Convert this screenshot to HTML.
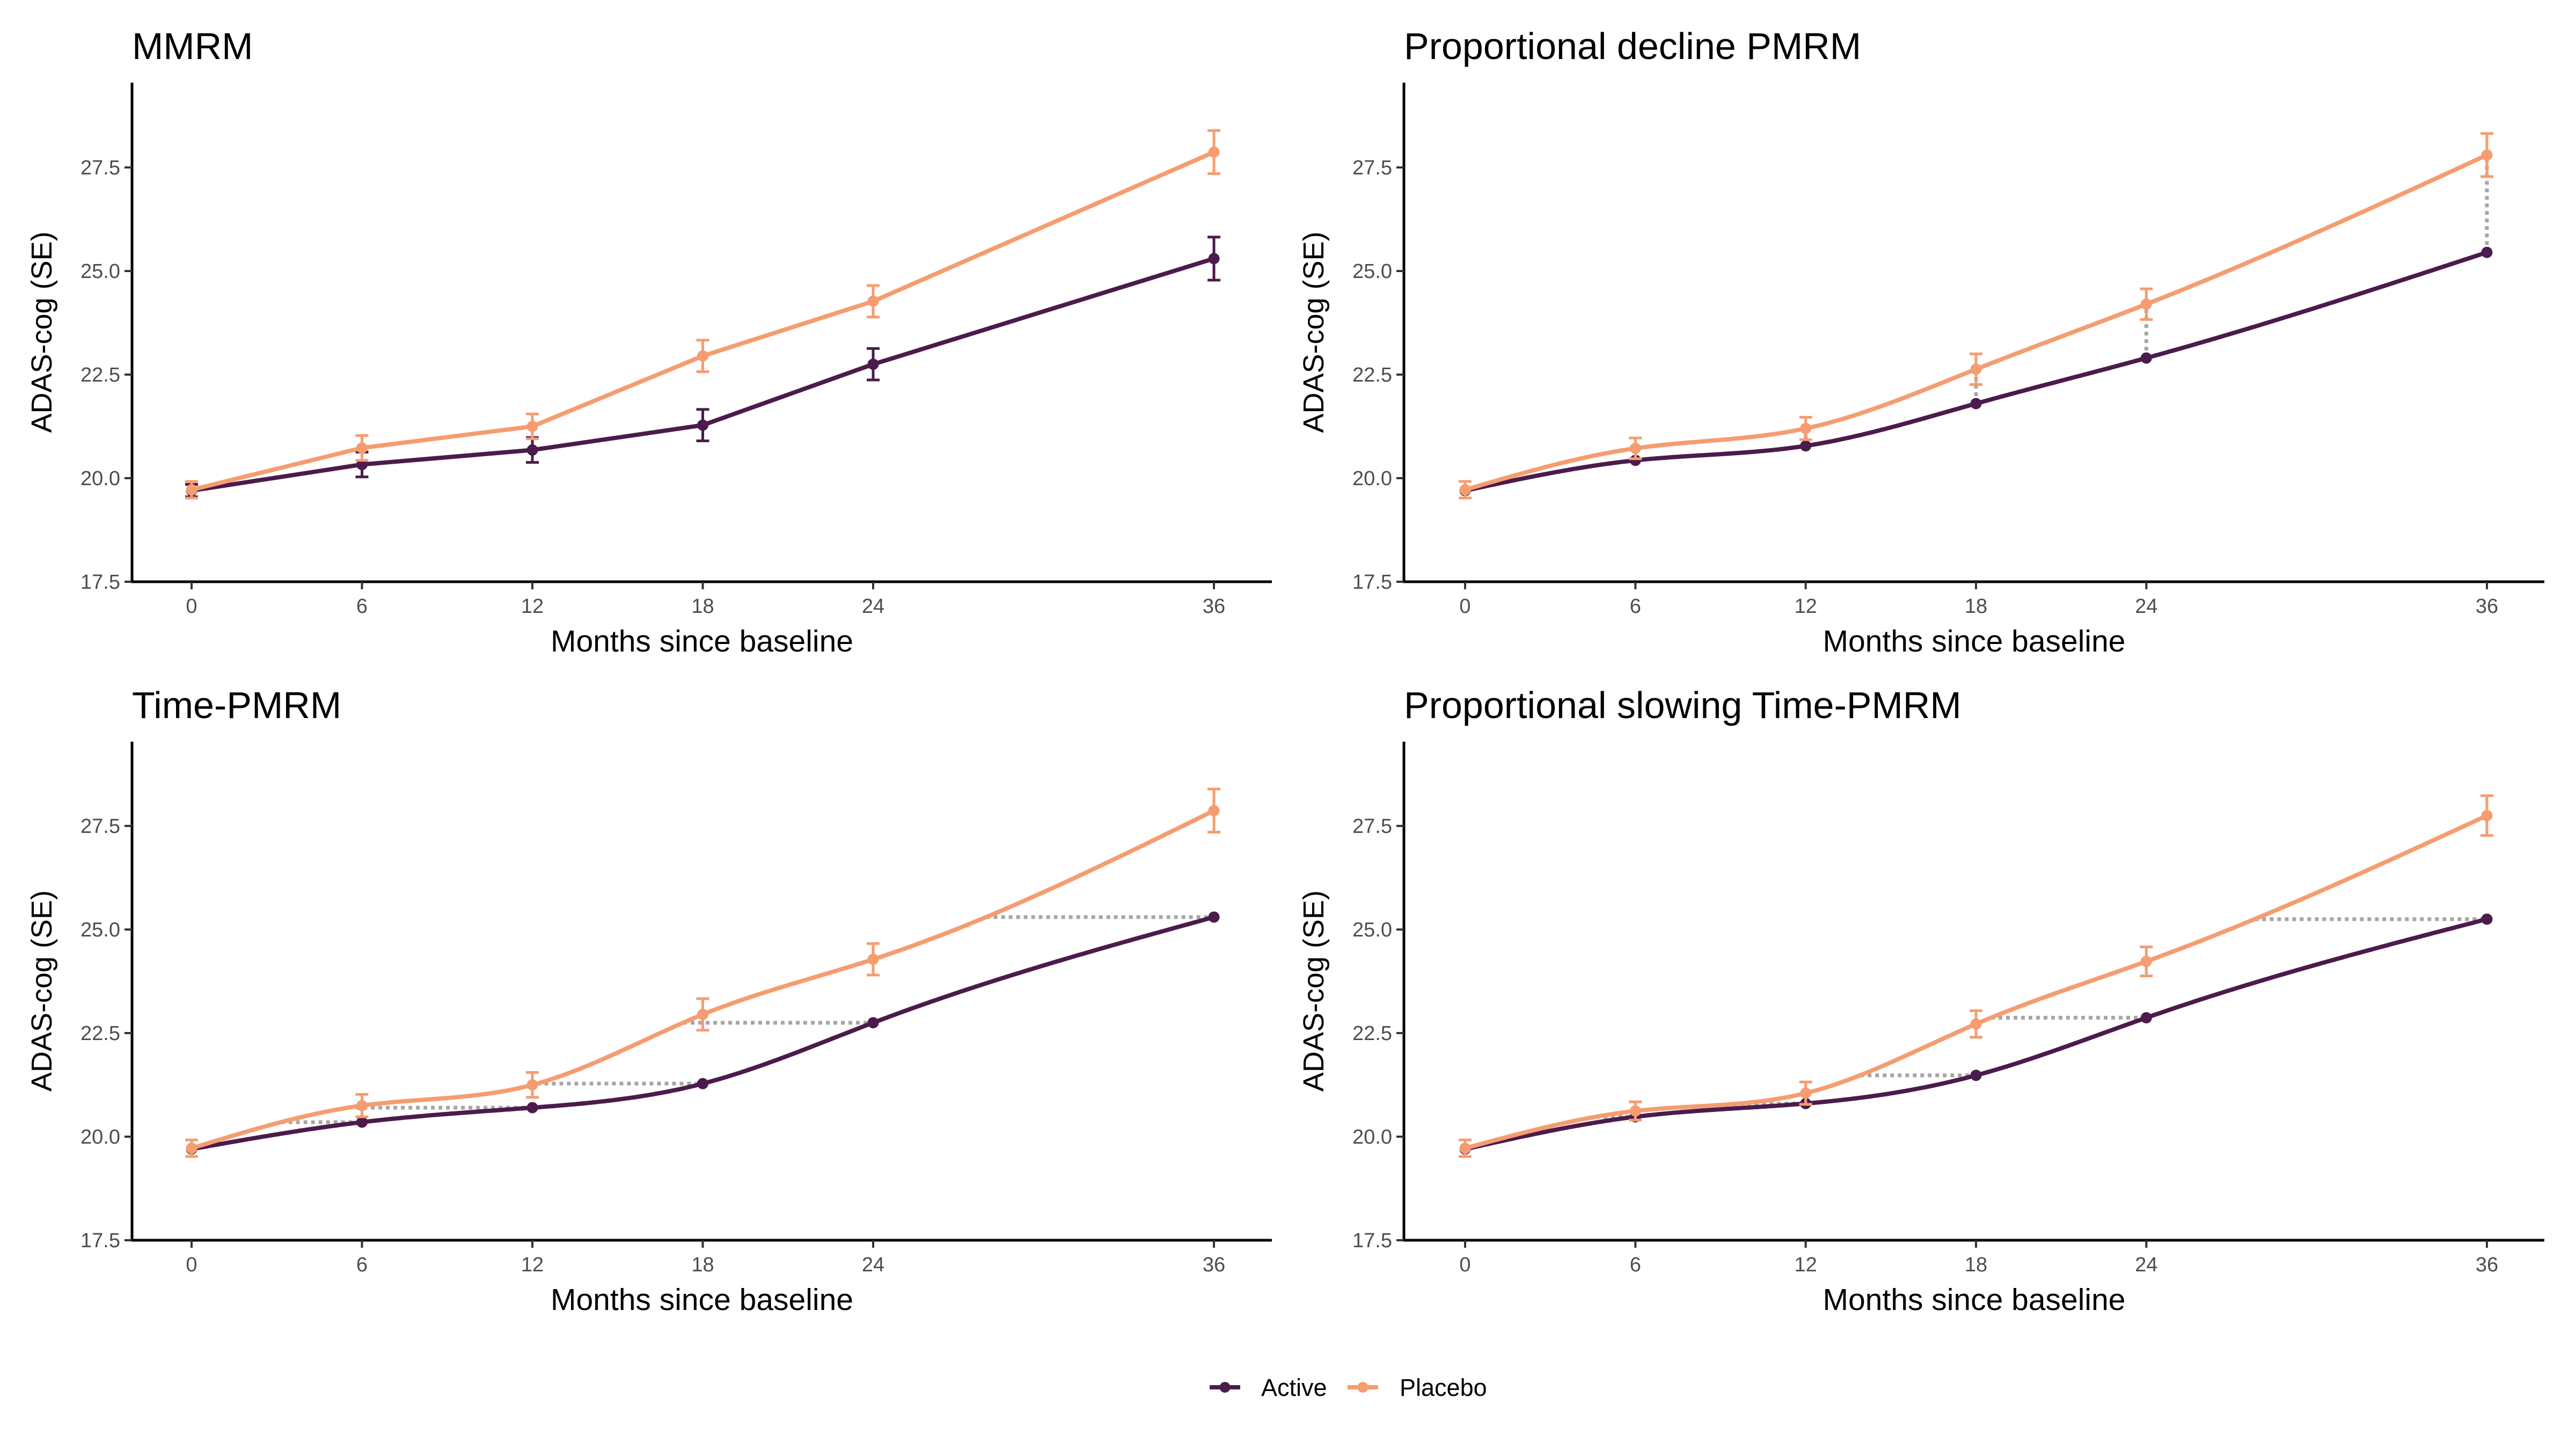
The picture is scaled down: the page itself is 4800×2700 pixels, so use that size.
<!DOCTYPE html>
<html><head><meta charset="utf-8"><style>
html,body{margin:0;padding:0;background:#fff}
svg{display:block;font-family:"Liberation Sans",Arial,sans-serif}
</style></head><body>
<svg id="chart" width="4800" height="2700" viewBox="0 0 4800 2700" xmlns="http://www.w3.org/2000/svg"></svg>
<script>
// ---- data ----
const months = [0, 6, 12, 18, 24, 36];
const yTicks = [17.5, 20.0, 22.5, 25.0, 27.5];
const xTicks = [0, 6, 12, 18, 24, 36];
const panelTitles = ["MMRM", "Proportional decline PMRM", "Time-PMRM", "Proportional slowing Time-PMRM"];
const mmrmActive = [19.7, 20.33, 20.68, 21.28, 22.75, 25.3];
const mmrmActiveSE = [0.15, 0.3, 0.3, 0.38, 0.38, 0.52];
const mmrmPlacebo = [19.72, 20.73, 21.25, 22.95, 24.27, 27.87];
const mmrmPlaceboSE = [0.2, 0.3, 0.3, 0.38, 0.38, 0.52];
const pdActive = [19.7, 20.43, 20.78, 21.8, 22.9, 25.45];
const pdPlacebo = [19.72, 20.72, 21.2, 22.63, 24.2, 27.8];
const pdPlaceboSE = [0.2, 0.25, 0.27, 0.37, 0.37, 0.52];
const tpActive = [19.7, 20.35, 20.7, 21.28, 22.75, 25.3];
const tpPlacebo = [19.72, 20.75, 21.25, 22.95, 24.28, 27.87];
const tpPlaceboSE = [0.2, 0.27, 0.3, 0.38, 0.38, 0.52];
const psActive = [19.7, 20.48, 20.8, 21.48, 22.87, 25.25];
const psPlacebo = [19.72, 20.62, 21.05, 22.72, 24.23, 27.75];
const psPlaceboSE = [0.2, 0.22, 0.27, 0.32, 0.35, 0.48];

const NS = "http://www.w3.org/2000/svg";
const svg = document.getElementById("chart");
const ACT = "#4b1b4c", PLA = "#f59d70", GREY = "#a6a6a6";
function mk(tag, attrs, parent) {
  const e = document.createElementNS(NS, tag);
  for (const k in attrs) e.setAttribute(k, attrs[k]);
  (parent || svg).appendChild(e);
  return e;
}
function spline(xs, ys) {
  const n = xs.length, h = [], a = [], l = [1], mu = [0], z = [0], c = new Array(n).fill(0), b = [], d = [];
  for (let i = 0; i < n - 1; i++) h.push(xs[i + 1] - xs[i]);
  for (let i = 1; i < n - 1; i++) a[i] = 3 / h[i] * (ys[i + 1] - ys[i]) - 3 / h[i - 1] * (ys[i] - ys[i - 1]);
  for (let i = 1; i < n - 1; i++) {
    l[i] = 2 * (xs[i + 1] - xs[i - 1]) - h[i - 1] * mu[i - 1];
    mu[i] = h[i] / l[i];
    z[i] = (a[i] - h[i - 1] * z[i - 1]) / l[i];
  }
  for (let j = n - 2; j >= 0; j--) {
    c[j] = (z[j] || 0) - (mu[j] || 0) * c[j + 1];
    b[j] = (ys[j + 1] - ys[j]) / h[j] - h[j] * (c[j + 1] + 2 * c[j]) / 3;
    d[j] = (c[j + 1] - c[j]) / (3 * h[j]);
  }
  return function (x) {
    let i = 0;
    while (i < n - 2 && x > xs[i + 1]) i++;
    const dx = x - xs[i];
    return ys[i] + b[i] * dx + c[i] * dx * dx + d[i] * dx * dx * dx;
  };
}
const panels = [
  {x0: 357, x36: 2262, left: 246, right: 2370, top: 154, bottom: 1084, titleY: 110},
  {x0: 2730, x36: 4634, left: 2616, right: 4741, top: 154, bottom: 1084, titleY: 110},
  {x0: 357, x36: 2262, left: 246, right: 2370, top: 1382, bottom: 2311, titleY: 1338},
  {x0: 2730, x36: 4634, left: 2616, right: 4741, top: 1382, bottom: 2311, titleY: 1338}
];
function drawPanel(pi, cfg) {
  const p = panels[pi];
  const g = mk("g", {});
  
  
  const X = m => p.x0 + (m / 36) * (p.x36 - p.x0);
  const Y = v => p.bottom - (v - 17.5) / 10 * 772;
  const t = mk("text", {x: p.left, y: p.titleY, "font-size": 70, fill: "#000"}, g);
  t.textContent = panelTitles[pi];
  
  
  const ax = mk("path", {d: `M${p.left} ${p.top}V${p.bottom}H${p.right}`, stroke: "#000", "stroke-width": 5, fill: "none"}, g);
  
  
  yTicks.forEach(v => {
    mk("line", {x1: p.left - 14, x2: p.left, y1: Y(v), y2: Y(v), stroke: "#333", "stroke-width": 4}, g);
    const tl = mk("text", {x: p.left - 22, y: Y(v) + 13, "font-size": 38, fill: "#4d4d4d", "text-anchor": "end"}, g);
    tl.textContent = v.toFixed(1);
    
    
  });
  xTicks.forEach(m => {
    mk("line", {x1: X(m), x2: X(m), y1: p.bottom, y2: p.bottom + 14, stroke: "#333", "stroke-width": 4}, g);
    const tl = mk("text", {x: X(m), y: p.bottom + 58, "font-size": 38, fill: "#4d4d4d", "text-anchor": "middle"}, g);
    tl.textContent = m;
    
    
  });
  const xt = mk("text", {x: (p.left + p.right) / 2, y: p.bottom + 130, "font-size": 57, fill: "#000", "text-anchor": "middle"}, g);
  xt.textContent = "Months since baseline";
  
  
  const cy = (p.top + p.bottom) / 2;
  const yt = mk("text", {x: p.left - 150, y: cy, "font-size": 54, fill: "#000", "text-anchor": "middle", transform: `rotate(-90 ${p.left - 150} ${cy})`}, g);
  yt.textContent = "ADAS-cog (SE)";
  
  

  const fa = cfg.smooth ? spline(months, cfg.act) : null;
  const fp = cfg.smooth ? spline(months, cfg.pla) : null;
  function pathOf(vals, f) {
    if (!f) return vals.map((v, i) => (i ? "L" : "M") + X(months[i]).toFixed(1) + " " + Y(v).toFixed(1)).join("");
    let d = "";
    for (let k = 0; k <= 360; k++) { const m = k / 10; d += (k ? "L" : "M") + X(m).toFixed(1) + " " + Y(f(m)).toFixed(1); }
    return d;
  }
  if (cfg.ref === "vertical") {
    months.forEach((m, i) => {
      const dl = mk("line", {x1: X(m), x2: X(m), y1: Y(cfg.act[i]), y2: Y(cfg.pla[i]), stroke: GREY, "stroke-width": 7, "stroke-dasharray": "7 7"}, g);
      
      
    });
  } else if (cfg.ref === "horizontal") {
    months.forEach((m, i) => {
      if (i === 0) return;
      const v = cfg.act[i];
      let mm = 0;
      for (let k = 0; k <= 3600; k++) { const q = k / 100; if (fp(q) >= v) { mm = q; break; } }
      const dl = mk("line", {x1: X(mm), x2: X(m), y1: Y(v), y2: Y(v), stroke: GREY, "stroke-width": 7, "stroke-dasharray": "7 7"}, g);
      
      
    });
  }
  function series(vals, se, f, col, name) {
    const sg = mk("g", {}, g);
    
    
    mk("path", {d: pathOf(vals, f), stroke: col, "stroke-width": 8, fill: "none", "stroke-linejoin": "round"}, sg);
    vals.forEach((v, i) => {
      const x = X(months[i]);
      if (se) {
        const e = mk("path", {d: `M${x - 12} ${Y(v + se[i])}H${x + 12}M${x} ${Y(v + se[i])}V${Y(v - se[i])}M${x - 12} ${Y(v - se[i])}H${x + 12}`, stroke: col, "stroke-width": 5, fill: "none"}, sg);
        
        
      }
      const c = mk("circle", {cx: x, cy: Y(v), r: 10.5, fill: col}, sg);
      
      
    });
  }
  series(cfg.act, cfg.actSE, fa, ACT, "active");
  series(cfg.pla, cfg.plaSE, fp, PLA, "placebo");
}
drawPanel(0, {act: mmrmActive, actSE: mmrmActiveSE, pla: mmrmPlacebo, plaSE: mmrmPlaceboSE, smooth: false});
drawPanel(1, {act: pdActive, actSE: null, pla: pdPlacebo, plaSE: pdPlaceboSE, smooth: true, ref: "vertical"});
drawPanel(2, {act: tpActive, actSE: null, pla: tpPlacebo, plaSE: tpPlaceboSE, smooth: true, ref: "horizontal"});
drawPanel(3, {act: psActive, actSE: null, pla: psPlacebo, plaSE: psPlaceboSE, smooth: true, ref: "horizontal"});

const lg = mk("g", {});


[["Active", ACT, 2254, 2350], ["Placebo", PLA, 2511, 2608]].forEach(([lab, col, kx, tx]) => {
  const e = mk("g", {}, lg);
  
  
  mk("line", {x1: kx, x2: kx + 57, y1: 2585, y2: 2585, stroke: col, "stroke-width": 8}, e);
  mk("circle", {cx: kx + 28.5, cy: 2585, r: 10, fill: col}, e);
  const t = mk("text", {x: tx, y: 2601, "font-size": 45, fill: "#000"}, e);
  t.textContent = lab;
});
</script>
</body></html>
